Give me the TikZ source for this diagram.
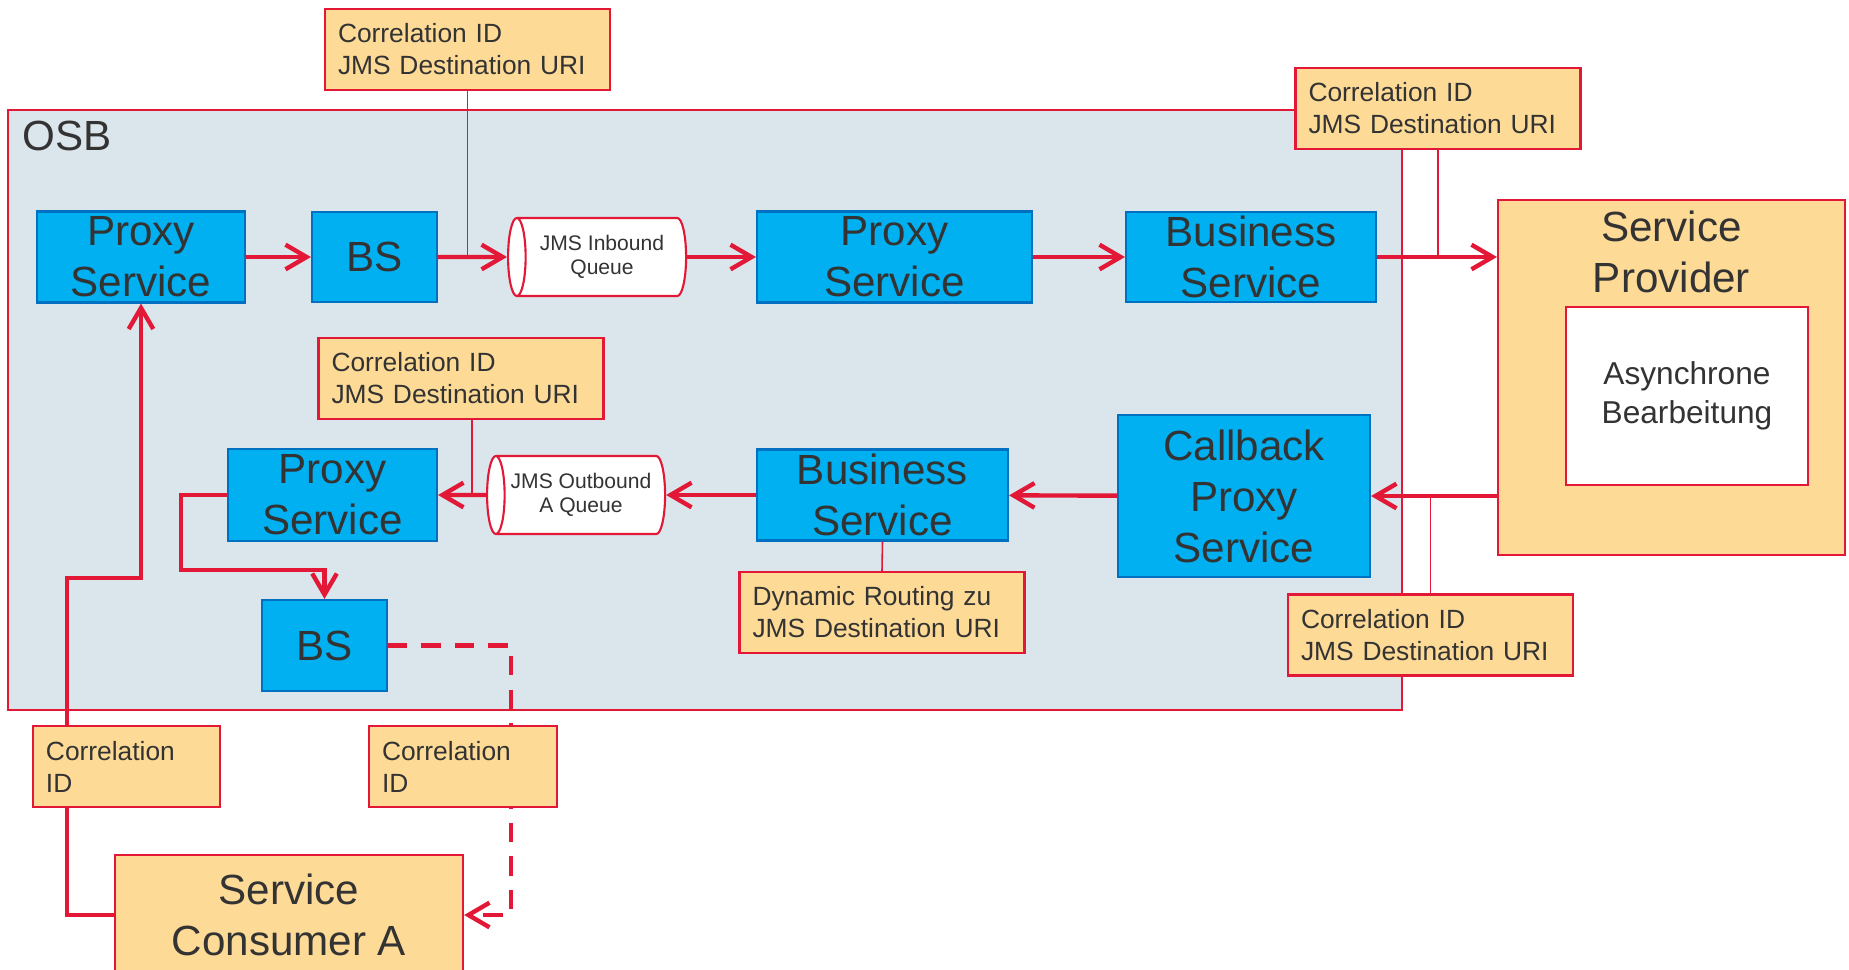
\documentclass[tikz,border=0pt]{standalone}
\usepackage{fontspec}
\setmainfont{Liberation Sans}
\usetikzlibrary{shapes.geometric}
\usetikzlibrary{arrows.meta}

\definecolor{accred}{RGB}{227,24,55}
\definecolor{svcblue}{RGB}{0,176,240}
\definecolor{svcedge}{RGB}{0,112,192}
\definecolor{noteorange}{RGB}{253,218,150}
\definecolor{osbgrey}{RGB}{218,229,236}
\definecolor{inktext}{RGB}{51,51,51}

\begin{document}
\begin{tikzpicture}[
		svcbox/.style={draw=svcedge, fill=svcblue, line width=0.6pt, inner sep=0pt, align=center, text=inktext, font=\fontsize{12}{14.5}\selectfont},
		note/.style={draw=accred, fill=noteorange, line width=0.6pt, inner xsep=0.13cm, inner ysep=0pt, text width=2.59cm, minimum height=0.81cm, align=left, text=inktext, font=\fontsize{7.5}{9.1}\selectfont},
		party/.style={draw=accred, fill=noteorange, line width=0.6pt, inner sep=0pt, align=center, text=inktext, font=\fontsize{12}{14.5}\selectfont},
		queue/.style={cylinder, shape border rotate=180, aspect=0.4, draw=accred, fill=white, line width=0.6pt, minimum width=0.78cm, minimum height=1.78cm, inner sep=0pt, align=center, text=inktext, font=\fontsize{6}{7}\selectfont},
		flow/.style={draw=accred, line width=1.25pt, -{Straight Barb[length=6pt,width=7pt]}},
		tap/.style={draw=accred, line width=0.45pt}
		]
		\useasboundingbox (0,0) rectangle (18.49,-9.69);
		
		% OSB Rahmen
		\node[draw=accred, fill=osbgrey, line width=0.6pt, minimum width=13.94cm, minimum height=6cm, inner sep=0pt] (osb) at (7.05,-4.10) {};
		\node[anchor=west, inner sep=0pt, text=inktext, font=\fontsize{12}{14.5}\selectfont] (osbname) at (0.22,-1.36) {OSB};
		
		% obere Reihe
		\node[svcbox, minimum width=2.08cm, minimum height=0.91cm] (proxyA) at (1.41,-2.57) {Proxy\\Service};
		\node[svcbox, minimum width=1.25cm, minimum height=0.90cm] (bsA) at (3.745,-2.57) {BS};
		\node[queue] (inq) at (6.02,-2.57) {JMS Inbound\\Queue};
		\node[svcbox, minimum width=2.75cm, minimum height=0.91cm] (proxyB) at (8.945,-2.57) {Proxy\\Service};
		\node[svcbox, minimum width=2.50cm, minimum height=0.90cm] (busA) at (12.51,-2.57) {Business\\Service};
		
		% Service Provider
		\node[party, minimum width=3.47cm, minimum height=3.55cm, label={[anchor=north, inner sep=0pt, yshift=-0.11cm, align=center, text=inktext, font=\fontsize{12}{14.5}\selectfont]north:Service\\Provider}] (prov) at (16.715,-3.775) {};
		\node[draw=accred, fill=white, line width=0.6pt, minimum width=2.42cm, minimum height=1.78cm, align=center, text=inktext, font=\fontsize{9}{11}\selectfont] (async) at (16.87,-3.96) {Asynchrone\\Bearbeitung};
		
		% untere Reihe
		\node[svcbox, minimum width=2.09cm, minimum height=0.92cm] (proxyC) at (3.325,-4.95) {Proxy\\Service};
		\node[queue] (outq) at (5.81,-4.95) {JMS Outbound\\A Queue};
		\node[svcbox, minimum width=2.51cm, minimum height=0.91cm] (busB) at (8.825,-4.95) {Business\\Service};
		\node[svcbox, minimum width=2.52cm, minimum height=1.62cm] (cbproxy) at (12.44,-4.96) {Callback\\Proxy\\Service};
		\node[svcbox, minimum width=1.25cm, minimum height=0.91cm] (bsB) at (3.245,-6.455) {BS};
		
		% Service Consumer
		\node[party, minimum width=3.48cm, minimum height=1.20cm] (consumer) at (2.89,-9.15) {Service\\Consumer A};
		
		% Notizen
		\node[note] (corrA) at (4.675,-0.495) {Correlation ID\\JMS Destination URI};
		\node[note] (corrB) at (14.38,-1.085) {Correlation ID\\JMS Destination URI};
		\node[note] (corrC) at (4.61,-3.785) {Correlation ID\\JMS Destination URI};
		\node[note] (dynroute) at (8.82,-6.125) {Dynamic Routing zu\\JMS Destination URI};
		\node[note] (corrD) at (14.305,-6.35) {Correlation ID\\JMS Destination URI};
		
		% Hilfspunkte
		\coordinate (bendA) at (0.67,-5.78);
		\coordinate (bendB) at (1.81,-5.70);
		\coordinate (dashbend) at (5.11,-9.15);
		
		% Hinweg
		\draw[flow] (proxyA) -- (bsA);
		\draw[flow] (bsA) -- (inq);
		\draw[flow] (inq) -- (proxyB);
		\draw[flow] (proxyB) -- (busA);
		\draw[flow] (busA.east) -- (busA.east -| prov.west);
		
		% Rueckweg
		\draw[flow] (cbproxy.east -| prov.west) -- (cbproxy.east);
		\draw[flow] (cbproxy) -- (busB);
		\draw[flow] (busB) -- (outq);
		\draw[flow] (outq) -- (proxyC);
		\draw[flow] (proxyC.west) -| (bendB) -| (bsB.north);
		\draw[flow] (consumer.west) -| (bendA) -| (proxyA.south);
		\draw[flow, dash pattern=on 5.5pt off 4pt] (bsB.east) -| (dashbend) -- (consumer.east);
		
		% Verbindungen zu den Notizen
		\draw[tap] (corrA.south) -- (corrA.south |- bsA.east);
		\draw[tap] (corrB.south) -- (corrB.south |- busA.east);
		\draw[tap] ([xshift=0.11cm]corrC.south) -- ([xshift=0.11cm]corrC.south |- outq.east);
		\draw[tap] (busB.south) -- (dynroute.north);
		\draw[tap] (corrD.north |- cbproxy.east) -- (corrD.north);
		
		% Notizen ueber den Linien
		\node[note, text width=1.61cm] (corrE) at (1.265,-7.665) {Correlation\\ID};
		\node[note, text width=1.62cm] (corrF) at (4.63,-7.665) {Correlation\\ID};
		
	\end{tikzpicture}
\end{document}
